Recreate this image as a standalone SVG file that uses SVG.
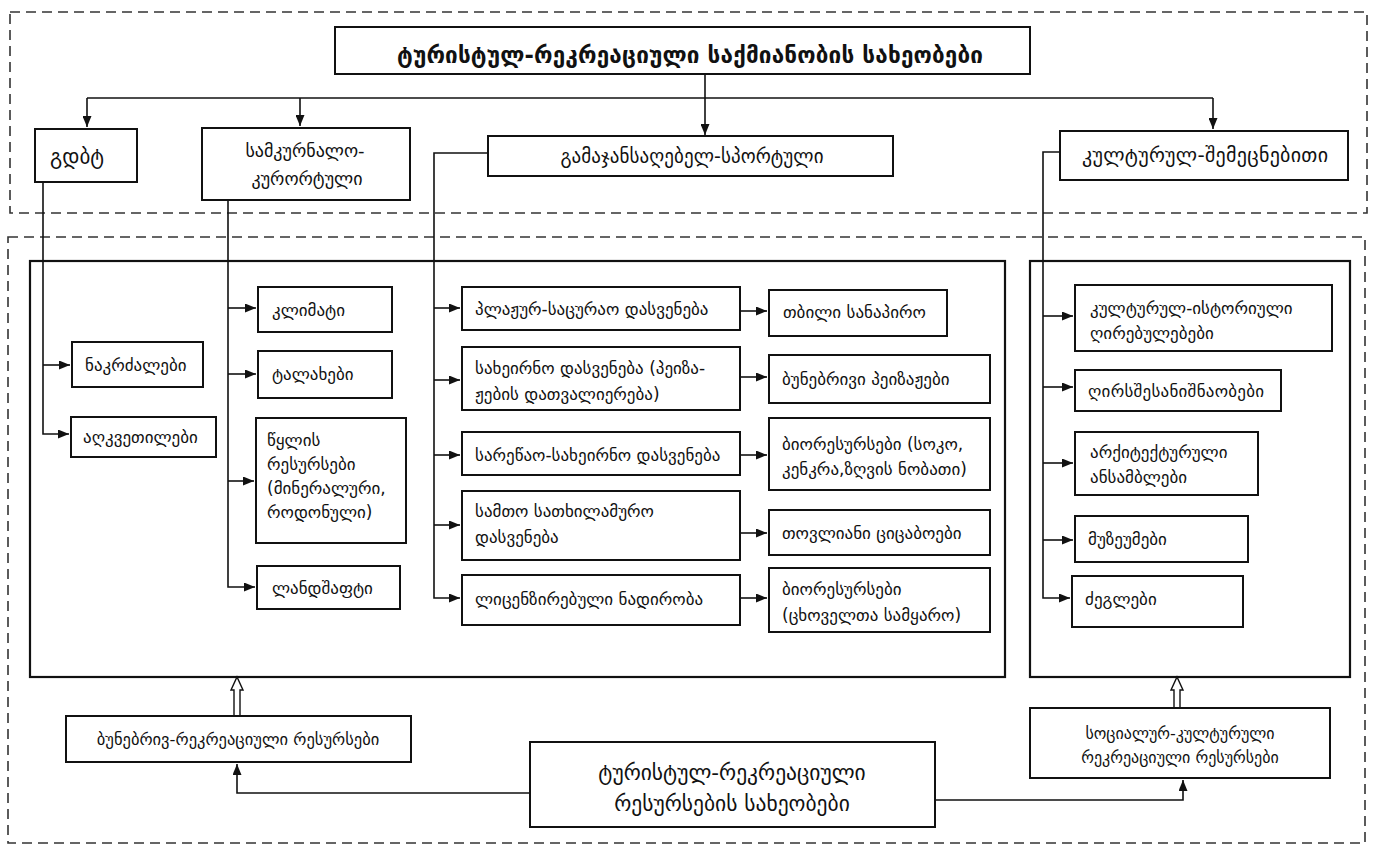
<svg xmlns="http://www.w3.org/2000/svg" width="1383" height="850" viewBox="0 0 1383 850">
<style>
.bx{fill:#fff;stroke:#111;stroke-width:2}
.big{fill:none;stroke:#111;stroke-width:2.2}
.dash{fill:none;stroke:#333;stroke-width:1.6;stroke-dasharray:10 6}
.ln{fill:none;stroke:#111;stroke-width:1.6}
.ar{fill:none;stroke:#111;stroke-width:1.6;marker-end:url(#ah)}
.ho{fill:#fff;stroke:#111;stroke-width:1.4}
text{font-family:"DejaVu Sans","Noto Sans",sans-serif;font-size:17px;fill:#111}
.c{text-anchor:middle}
.t{font-size:22.5px;font-weight:bold}
.m{font-size:18px}
.b{font-size:21.5px}
.s{font-size:16px}
</style>
<defs>
<marker id="ah" markerUnits="userSpaceOnUse" markerWidth="11" markerHeight="9" viewBox="0 0 11 9" refX="11" refY="4.5" orient="auto">
<path d="M0,0 L11,4.5 L0,9 z" fill="#111"/>
</marker>
</defs>
<rect class="dash" x="10" y="12" width="1357" height="201"/>
<rect class="dash" x="8" y="237" width="1357" height="606"/>
<rect class="big" x="30" y="261" width="975" height="416"/>
<rect class="big" x="1030" y="261" width="320" height="416"/>
<g id="connectors">
<path class="ar" d="M705,74 V135"/>
<path class="ln" d="M87,98 H1213"/>
<path class="ar" d="M87,98 V127"/>
<path class="ar" d="M300,98 V126"/>
<path class="ar" d="M1213,98 V129"/>
<path class="ar" d="M43,182 V434 H69"/>
<path class="ar" d="M43,365 H70"/>
<path class="ar" d="M228,200 V587 H255"/>
<path class="ar" d="M228,308 H256"/>
<path class="ar" d="M228,374 H256"/>
<path class="ar" d="M228,481 H254"/>
<path class="ar" d="M488,153 H434 V598 H460"/>
<path class="ar" d="M434,308 H460"/>
<path class="ar" d="M434,380 H460"/>
<path class="ar" d="M434,455 H460"/>
<path class="ar" d="M434,525 H460"/>
<path class="ar" d="M740,311 H767"/>
<path class="ar" d="M740,377 H767"/>
<path class="ar" d="M740,455 H767"/>
<path class="ar" d="M740,533 H767"/>
<path class="ar" d="M740,598 H767"/>
<path class="ar" d="M1060,152 H1043 V598 H1070"/>
<path class="ar" d="M1043,316 H1073"/>
<path class="ar" d="M1043,387 H1073"/>
<path class="ar" d="M1043,463 H1073"/>
<path class="ar" d="M1043,540 H1073"/>
<path class="ar" d="M530,793 H237 V764"/>
<path class="ar" d="M935,800 H1183 V780"/>
<path class="ho" d="M234,715 V690 H231 L237,677 L243,690 H240 V715"/>
<path class="ho" d="M1174,708 V690 H1171 L1177,677 L1183,690 H1180 V708"/>
</g>
<g id="n-title"><rect class="bx" x="335" y="27" width="695" height="47"/><text class="c t" x="690" y="63" textLength="586">ტურისტულ-რეკრეაციული საქმიანობის სახეობები</text></g>
<g id="n-gdbt"><rect class="bx" x="35" y="129" width="102" height="53"/><text x="50" y="164" style="font-size:21px">გდბტ</text></g>
<g id="n-samkurnalo"><rect class="bx" x="202" y="128" width="208" height="72"/><text class="c m" x="305" y="157">სამკურნალო-</text><text class="c m" x="307" y="185">კურორტული</text></g>
<g id="n-gamajansaghebeli"><rect class="bx" x="488" y="136" width="405" height="40"/><text class="c m" x="692" y="163" textLength="263" style="font-size:19px">გამაჯანსაღებელ-სპორტული</text></g>
<g id="n-kulturul"><rect class="bx" x="1060" y="131" width="288" height="49"/><text class="c m" x="1205" y="162" textLength="246" style="font-size:20px">კულტურულ-შემეცნებითი</text></g>
<g id="n-nakrdzalebi"><rect class="bx" x="72" y="342" width="131" height="45"/><text x="85" y="371">ნაკრძალები</text></g>
<g id="n-aghkvetilebi"><rect class="bx" x="71" y="417" width="145" height="40"/><text x="83" y="443">აღკვეთილები</text></g>
<g id="n-klimati"><rect class="bx" x="258" y="287" width="134" height="45"/><text x="272" y="316">კლიმატი</text></g>
<g id="n-talaxebi"><rect class="bx" x="258" y="351" width="134" height="47"/><text x="272" y="380">ტალახები</text></g>
<g id="n-tsqali"><rect class="bx" x="256" y="418" width="150" height="125"/><text x="267" y="446">წყლის</text><text x="267" y="470">რესურსები</text><text x="267" y="494">(მინერალური,</text><text x="267" y="518">როდონული)</text></g>
<g id="n-landshafti"><rect class="bx" x="257" y="566" width="143" height="43"/><text x="272" y="594">ლანდშაფტი</text></g>
<g id="n-plazhur"><rect class="bx" x="462" y="287" width="278" height="43"/><text x="475" y="315">პლაჟურ-საცურაო დასვენება</text></g>
<g id="n-saxeirno"><rect class="bx" x="462" y="347" width="278" height="63"/><text x="475" y="374">სახეირნო დასვენება (პეიზა-</text><text x="475" y="400">ჟების დათვალიერება)</text></g>
<g id="n-saretsao"><rect class="bx" x="462" y="432" width="278" height="43"/><text x="475" y="461">სარეწაო-სახეირნო  დასვენება</text></g>
<g id="n-samto"><rect class="bx" x="462" y="491" width="278" height="69"/><text x="475" y="517">სამთო სათხილამურო</text><text x="475" y="543">დასვენება</text></g>
<g id="n-licenz"><rect class="bx" x="462" y="575" width="278" height="50"/><text x="475" y="605">ლიცენზირებული ნადირობა</text></g>
<g id="n-tbili"><rect class="bx" x="769" y="290" width="178" height="46"/><text x="783" y="318">თბილი სანაპირო</text></g>
<g id="n-bunebrivi"><rect class="bx" x="769" y="355" width="221" height="48"/><text x="782" y="385">ბუნებრივი პეიზაჟები</text></g>
<g id="n-bio1"><rect class="bx" x="769" y="418" width="221" height="72"/><text x="782" y="450">ბიორესურსები (სოკო,</text><text x="782" y="475">კენკრა,ზღვის ნობათი)</text></g>
<g id="n-tovliani"><rect class="bx" x="769" y="510" width="221" height="45"/><text x="782" y="539">თოვლიანი ციცაბოები</text></g>
<g id="n-bio2"><rect class="bx" x="769" y="568" width="221" height="64"/><text x="782" y="595">ბიორესურსები</text><text x="782" y="621">(ცხოველთა სამყარო)</text></g>
<g id="n-kultist"><rect class="bx" x="1075" y="285" width="257" height="66"/><text x="1090" y="314">კულტურულ-ისტორიული</text><text x="1090" y="339">ღირებულებები</text></g>
<g id="n-ghirs"><rect class="bx" x="1075" y="370" width="206" height="41"/><text x="1088" y="397" textLength="176">ღირსშესანიშნაობები</text></g>
<g id="n-arqit"><rect class="bx" x="1075" y="432" width="183" height="63"/><text x="1090" y="458">არქიტექტურული</text><text x="1090" y="483">ანსამბლები</text></g>
<g id="n-muzeumebi"><rect class="bx" x="1075" y="516" width="173" height="46"/><text x="1088" y="545">მუზეუმები</text></g>
<g id="n-dzeglebi"><rect class="bx" x="1072" y="576" width="171" height="51"/><text x="1085" y="605">ძეგლები</text></g>
<g id="n-bunebriv-rek"><rect class="bx" x="66" y="716" width="345" height="46"/><text class="c" x="238" y="745" style="font-size:16.5px">ბუნებრივ-რეკრეაციული რესურსები</text></g>
<g id="n-resursebi"><rect class="bx" x="530" y="742" width="405" height="85"/><text class="c b" x="732" y="780">ტურისტულ-რეკრეაციული</text><text class="c b" x="732" y="811">რესურსების სახეობები</text></g>
<g id="n-socialur"><rect class="bx" x="1030" y="708" width="300" height="70"/><text class="c s" x="1180" y="739">სოციალურ-კულტურული</text><text class="c s" x="1180" y="763">რეკრეაციული რესურსები</text></g>
</svg>
